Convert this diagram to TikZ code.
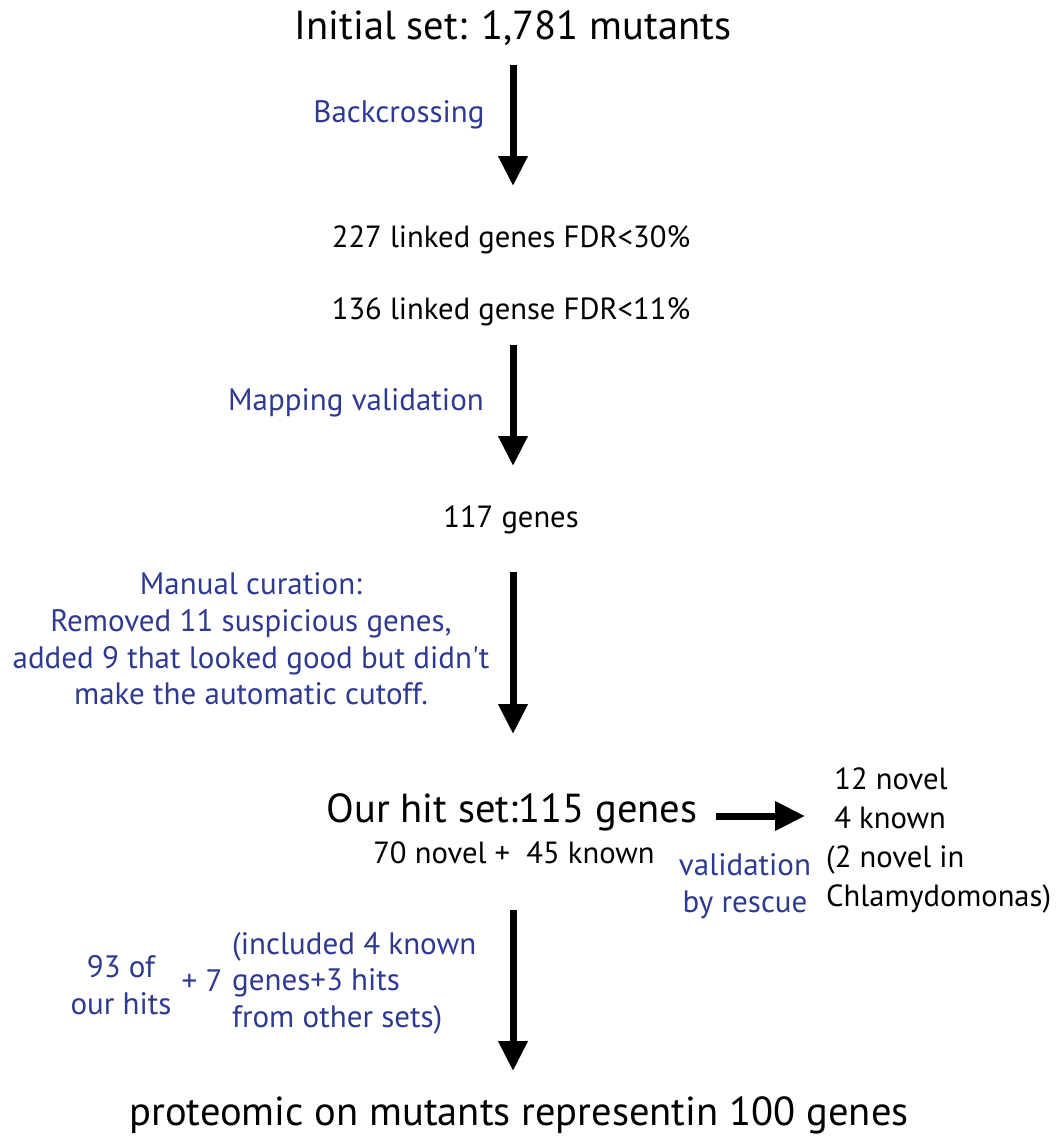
\documentclass[tikz,border=0pt]{standalone}
\usepackage{fontspec}
\setmainfont{PT Sans}
\usetikzlibrary{arrows.meta}
\definecolor{lblue}{RGB}{46,57,145}
\tikzset{
  big/.style={font=\fontsize{40.5}{46}\selectfont, inner sep=0pt},
  mid/.style={font=\fontsize{30.6}{38}\selectfont, inner sep=0pt},
  note/.style={font=\fontsize{31}{36.5}\selectfont, text=lblue, inner sep=0pt, align=center},
  flow/.style={line width=7pt, -{Triangle[width=28pt,length=30pt]}},
}
\begin{document}
\begin{tikzpicture}[x=1pt,y=-1pt]
\useasboundingbox (0,0) rectangle (1062,1144);
\node[big] (init) at (513,28) {Initial set: 1,781 mutants};
\coordinate (a1s) at (513,65);
\coordinate (a1e) at (513,186);
\draw[flow] (a1s) -- (a1e);
\node[note] (bc) at (399,115) {Backcrossing};
\node[mid] (l227) at (511,240) {227 linked genes FDR<30\%};
\node[mid] (l136) at (511,312) {136 linked gense FDR<11\%};
\coordinate (a2s) at (513,345);
\coordinate (a2e) at (513,466);
\draw[flow] (a2s) -- (a2e);
\node[note] (mv) at (356,403) {Mapping validation};
\node[mid] (g117) at (511,520) {117 genes};
\node[note, font=\fontsize{31}{36.8}\selectfont] (mc) at (251,639) {Manual curation:\\Removed 11 suspicious genes,\\added 9 that looked good but didn\textquotesingle t\\make the automatic cutoff.};
\coordinate (a3s) at (513,572);
\coordinate (a3e) at (513,734);
\draw[flow] (a3s) -- (a3e);
\node[big] (hit) at (512,812) {Our hit set:115 genes};
\node[mid] (nk) at (514,853) {70 novel +\ \ 45 known};
\coordinate (hs) at (716,816);
\node[mid, align=left, anchor=west, font=\fontsize{30.6}{39}\selectfont] (res) at (826,840) {\ 12 novel\\\ 4 known\\(2 novel in\\Chlamydomonas)};
\draw[flow] (hs) -- (805,816);
\node[note] (vr) at (745,886) {validation\\by rescue};
\coordinate (a4s) at (513,910);
\coordinate (a4e) at (513,1071);
\draw[flow] (a4s) -- (a4e);
\node[note] (h93) at (121,985) {93 of\\our hits};
\node[note] (p7) at (202,981) {+ 7};
\node[note, align=left, anchor=west] (inc) at (232,983) {(included 4 known\\genes+3 hits\\from other sets)};
\node[big] (prot) at (519,1115) {proteomic on mutants representin 100 genes};
\end{tikzpicture}
\end{document}
